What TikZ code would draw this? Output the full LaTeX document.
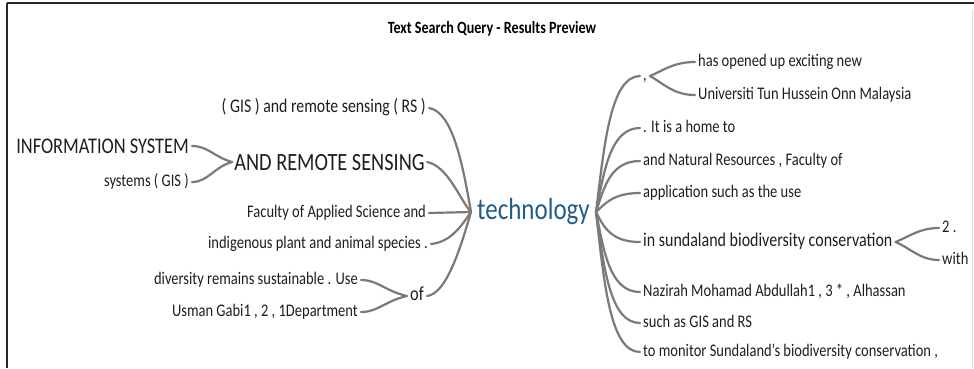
\documentclass[tikz,border=0pt]{standalone}
\usepackage{fontspec}
\setmainfont{Carlito}[FakeStretch=0.82]
\definecolor{conn}{HTML}{7A7A7A}
\definecolor{tblue}{HTML}{215D8C}
\definecolor{txt}{HTML}{1E1E1E}
\begin{document}
\begin{tikzpicture}[x=1pt,y=-1pt,
  lbl/.style={font=\fontsize{17.7}{19}\selectfont, text=txt, inner xsep=3pt, inner ysep=0pt, text height=8.2pt, text depth=0pt},
  lblb/.style={lbl, font=\fontsize{19.3}{21}\selectfont, text height=9pt},
  big/.style={lbl, font=\fontsize{24.8}{27}\selectfont, text height=16pt},
  cn/.style={draw=conn, line width=2.2pt, line cap=round}]
\useasboundingbox (0,0) rectangle (974,368);
% frame
\draw[line width=1.6pt, black!85] (6.5,2.8) -- (974,2.8);
\draw[line width=1.4pt, black!85] (6.8,2.8) -- (6.8,368);
\draw[line width=0.6pt, black!12] (972,10) -- (972,368);
% title
\node[font=\bfseries\fontsize{17.2}{19}\selectfont, text=black, inner sep=0pt, anchor=base] (title) at (492,33.5) {Text Search Query - Results Preview};
% root
\node[font=\fontsize{30.5}{33}\selectfont, text=tblue, inner xsep=6pt, inner ysep=0pt, text height=14.2pt, text depth=0pt] (root) at (533.5,212) {technology};
% left branches
\node[lblb, anchor=east] (gisrs) at (429,108) {( GIS ) and remote sensing ( RS )};
\node[big, anchor=east, inner xsep=2pt] (ars) at (427,162) {AND REMOTE SENSING};
\node[big, font=\fontsize{22.4}{24}\selectfont, text height=14.4pt, anchor=east] (info) at (192,146) {INFORMATION SYSTEM};
\node[lbl, anchor=east] (sysg) at (192,182) {systems ( GIS )};
\node[lbl, anchor=east] (fac) at (429,213) {Faculty of Applied Science and};
\node[lbl, anchor=east] (indig) at (431,244) {indigenous plant and animal species .};
\node[lbl, font=\fontsize{20}{22}\selectfont, text height=9.3pt, anchor=east] (of) at (427,296) {of};
\node[lbl, anchor=east] (div) at (361,280) {diversity remains sustainable . Use};
\node[lbl, anchor=east] (usman) at (361,312) {Usman Gabi1 , 2 , 1Department};
% right branches
\node[lbl, anchor=west] (comma) at (640,76) {,};
\node[lbl, anchor=west] (hasop) at (695,62) {has opened up exciting new};
\node[lbl, anchor=west] (univ) at (695,95) {Universiti Tun Hussein Onn Malaysia};
\node[lbl, anchor=west] (home) at (640,128) {. It is a home to};
\node[lbl, anchor=west] (natres) at (640,161) {and Natural Resources , Faculty of};
\node[lbl, anchor=west] (appl) at (640,193) {application such as the use};
\node[lblb, font=\fontsize{19.5}{21}\selectfont, anchor=west] (sund) at (640,242) {in sundaland biodiversity conservation};
\node[lbl, anchor=west] (two) at (939,228) {2 .};
\node[lbl, anchor=west] (with) at (939,260) {with};
\node[lbl, anchor=west] (nazi) at (640,292) {Nazirah Mohamad Abdullah1 , 3 * , Alhassan};
\node[lbl, anchor=west] (gisrs2) at (640,323) {such as GIS and RS};
\node[lbl, anchor=west] (monit) at (640,352) {to monitor Sundaland's biodiversity conservation ,};
% left connectors
\draw[cn] (gisrs.east) .. controls (452,112) and (462,160) .. (root.west);
\draw[cn] (ars.east) .. controls (448,166) and (460,200) .. (root.west);
\draw[cn] (fac.east) -- (root.west);
\draw[cn] (indig.east) .. controls (450,242) and (460,228) .. (root.west);
\draw[cn] (of.east) .. controls (446,294) and (460,250) .. (root.west);
\draw[cn] (info.east) .. controls (208,146) and (214,157) .. (ars.west);
\draw[cn] (sysg.east) .. controls (208,182) and (214,167) .. (ars.west);
\draw[cn] (div.east) .. controls (378,280) and (385,291) .. (of.west);
\draw[cn] (usman.east) .. controls (378,312) and (385,301) .. (of.west);
% right connectors
\draw[cn] (root.east) .. controls (604,148) and (610,76) .. (comma.west);
\draw[cn] (root.east) .. controls (604,172) and (610,128) .. (home.west);
\draw[cn] (root.east) .. controls (604,188) and (610,161) .. (natres.west);
\draw[cn] (root.east) .. controls (604,205) and (612,193) .. (appl.west);
\draw[cn] (root.east) .. controls (604,228) and (612,242) .. (sund.west);
\draw[cn] (root.east) .. controls (604,252) and (610,292) .. (nazi.west);
\draw[cn] (root.east) .. controls (604,268) and (610,323) .. (gisrs2.west);
\draw[cn] (root.east) .. controls (604,282) and (610,352) .. (monit.west);
\draw[cn] (comma.east) .. controls (664,70) and (674,62) .. (hasop.west);
\draw[cn] (comma.east) .. controls (664,84) and (674,95) .. (univ.west);
\draw[cn] (sund.east) .. controls (910,236) and (920,228) .. (two.west);
\draw[cn] (sund.east) .. controls (910,248) and (920,260) .. (with.west);
\end{tikzpicture}
\end{document}
